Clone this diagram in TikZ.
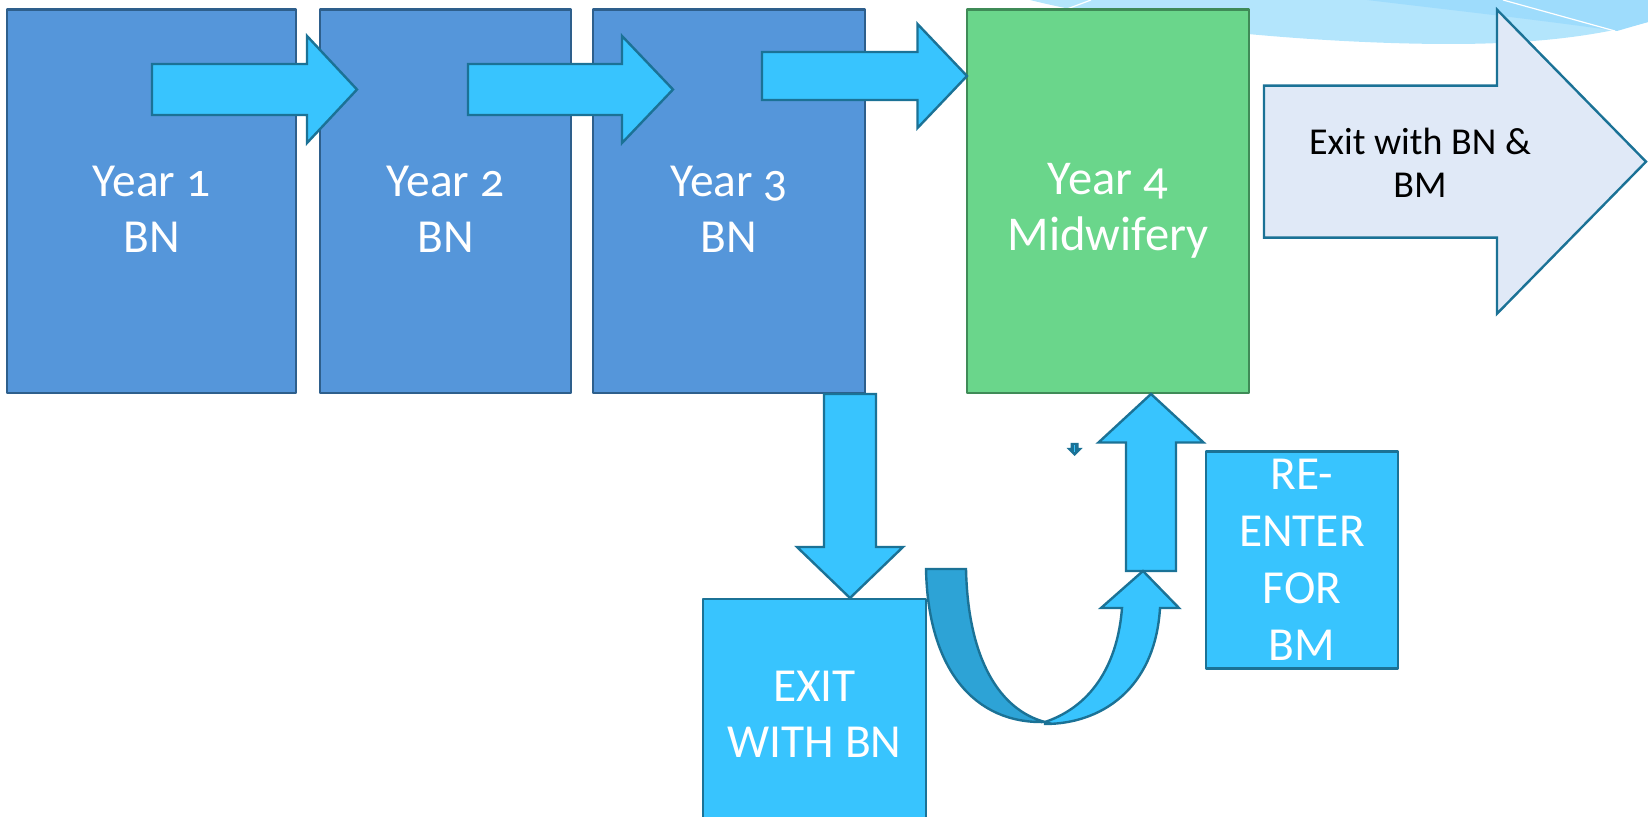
\documentclass[tikz,border=0pt]{standalone}
\usepackage{fontspec}
\setmainfont{Carlito}[Numbers=OldStyle]
\usepackage{tikz}

\definecolor{boxblue}{RGB}{85,150,218}
\definecolor{boxedge}{RGB}{46,95,140}
\definecolor{arrowblue}{RGB}{56,196,254}
\definecolor{arrowedge}{RGB}{27,114,150}
\definecolor{bandblue}{RGB}{45,163,214}
\definecolor{midgreen}{RGB}{106,214,139}
\definecolor{greenedge}{RGB}{63,139,87}
\definecolor{exitfill}{RGB}{224,233,247}
\definecolor{swooshlight}{RGB}{179,229,252}
\definecolor{swooshdark}{RGB}{158,220,252}

\tikzset{
  yearbox/.style={draw=boxedge, fill=boxblue, line width=1.2pt, line join=round,
    text=white, align=center, inner sep=0pt,
    font=\fontsize{23.7}{28}\selectfont},
  yeartext/.style={text=white, align=center, inner sep=0pt,
    font=\fontsize{23.7}{28}\selectfont},
  midbox/.style={yearbox, draw=greenedge, fill=midgreen},
  exitbox/.style={yearbox, draw=arrowedge, fill=arrowblue},
  blockarrow/.style={draw=arrowedge, fill=arrowblue, line width=1.2pt, line join=miter},
  bigarrow/.style={blockarrow, fill=exitfill, draw=arrowedge}
}

% right pointing block arrow: left x, mid y, shaft half, head base x, head half, tip x
\newcommand{\rightblock}[7][blockarrow]{%
  \draw[#1] (#2,#3-#4) -- (#5,#3-#4) -- (#5,#3-#6) -- (#7,#3) -- (#5,#3+#6)
    -- (#5,#3+#4) -- (#2,#3+#4) -- cycle;}
% vertical block arrow: mid x, tail y, shaft half, head base y, head half, tip y
\newcommand{\vblock}[7][blockarrow]{%
  \draw[#1] (#2-#4,#3) -- (#2-#4,#5) -- (#2-#6,#5) -- (#2,#7) -- (#2+#6,#5)
    -- (#2+#4,#5) -- (#2+#4,#3) -- cycle;}

\begin{document}
\begin{tikzpicture}[x=0.5pt, y=-0.5pt]
\useasboundingbox (0,0) rectangle (1648,817);
\clip (0,0) rectangle (1648,817);

% background swoosh
\fill[swooshlight] (1030,0) .. controls (1150,30) and (1330,44) .. (1450,44)
  .. controls (1540,44) and (1600,35) .. (1648,22) -- (1648,0) -- cycle;
\fill[swooshdark] (1367,0) .. controls (1450,10) and (1540,20) .. (1617,31)
  -- (1648,22) -- (1648,0) -- cycle;
\draw[white, line width=0.6pt] (1503,0) -- (1615,31);
\draw[white, line width=0.6pt] (1067,9) -- (1091,0);

% year boxes
\node[yearbox, minimum width=144.5pt, minimum height=191.75pt] (year1) at (151.5,201.25) {};
\node[yearbox, minimum width=125.5pt, minimum height=191.75pt] (year2) at (445.5,201.25) {};
\node[yearbox, minimum width=136pt, minimum height=191.75pt] (year3) at (729,201.25) {};
\node[midbox, minimum width=141pt, minimum height=191.75pt] (year4) at (1108,201.25) {};
\node[yeartext] (year1text) at ([yshift=-3.8pt]year1.center) {Year 1\\BN};
\node[yeartext] (year2text) at ([yshift=-3.8pt]year2.center) {Year 2\\BN};
\node[yeartext] (year3text) at ([yshift=-3.8pt]year3.center) {Year 3\\BN};
\node[yeartext, font=\fontsize{24.3}{28}\selectfont] (year4text) at ([yshift=-4.8pt]year4.center) {Year 4\\Midwifery};

% arrows between the years
\rightblock{152}{89.5}{25.5}{307}{53.5}{357}
\rightblock{468}{89.5}{25.5}{622}{53.5}{673}
\rightblock{762}{76}{24}{917.5}{52}{967}

% exit with BN & BM
\rightblock[bigarrow]{1264}{161.7}{76}{1497}{152}{1646}
\node[align=center, font=\fontsize{19}{21.5}\selectfont] (bnbm) at (1420,163) {Exit with BN \&\\BM};

% exit and re-enter
\node[exitbox, minimum width=111.5pt, minimum height=115.5pt] (exitbn) at (814.5,714.5) {EXIT\\WITH BN};
\node[exitbox, minimum width=96pt, minimum height=108.5pt,
  font=\fontsize{23.7}{28.5}\selectfont] (reenter) at (1302,560) {RE-\\ENTER\\FOR\\BM};
\vblock{850}{394}{26}{547}{53}{598}
\vblock{1151}{571}{25}{442.5}{52.5}{394}

% u-turn arrow
\draw[blockarrow] (1045,722) .. controls (1095,705) and (1118,660) .. (1122,608)
  -- (1101,608) -- (1143,571) -- (1179,608) -- (1160,608)
  .. controls (1155,690) and (1100,724) .. (1045,724) -- cycle;
\draw[blockarrow, fill=bandblue] (926,569) -- (966,569)
  .. controls (968,660) and (1000,710) .. (1045,722)
  .. controls (975,724) and (928,670) .. (926,569) -- cycle;

% small marker
\fill[arrowedge] (1070.7,443) -- (1078.7,443) -- (1078.7,448) -- (1082.7,448)
  -- (1074.7,456) -- (1066.7,448) -- (1070.7,448) -- cycle;
\draw[arrowblue, line width=0.4pt] (1074.7,445) -- (1074.7,452);
\end{tikzpicture}
\end{document}
